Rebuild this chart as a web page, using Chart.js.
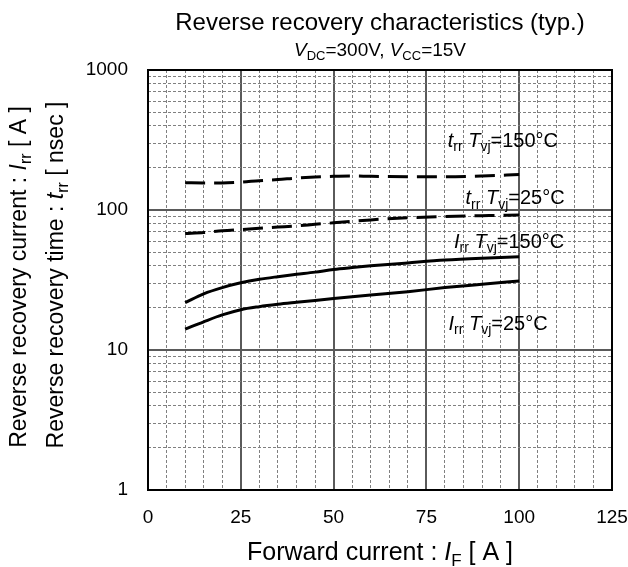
<!DOCTYPE html>
<html>
<head>
<meta charset="utf-8">
<script src="https://cdn.jsdelivr.net/npm/chart.js@4.4.1/dist/chart.umd.min.js"></script>
<style>
  html, body { margin: 0; padding: 0; background: #fff; }
  #wrap { width: 628px; height: 567px; }
</style>
</head>
<body>
<div id="wrap"><canvas id="chart"></canvas></div>
<script>
// forward current I_F [A]
const currents = [10, 15, 20, 25, 30, 35, 40, 45, 50, 55, 60, 70, 80, 90, 100];
// reverse recovery time t_rr [nsec]
const trr150 = [156.5, 156, 156, 158, 162, 165, 169, 172, 174, 175, 174, 173, 173, 175, 179];
const trr25 = [68, 69, 71, 72.5, 74, 75.5, 77, 79, 81, 83, 85, 88, 90, 91, 92];
// reverse recovery current I_rr [A]
const irr150 = [21.8, 25.2, 27.9, 30.2, 32, 33.4, 34.7, 36, 37.6, 38.8, 39.9, 41.9, 43.9, 45.3, 46.4];
const irr25 = [14.1, 15.9, 17.8, 19.4, 20.4, 21.2, 21.9, 22.6, 23.3, 24, 24.7, 26.1, 27.9, 29.5, 31.1];

const xTicks = [0, 5, 10, 15, 20, 25, 30, 35, 40, 45, 50, 55, 60, 65, 70, 75, 80, 85, 90, 95, 100, 105, 110, 115, 120, 125];
const yTicks = [1, 2, 3, 4, 5, 6, 7, 8, 9, 10, 20, 30, 40, 50, 60, 70, 80, 90, 100, 200, 300, 400, 500, 600, 700, 800, 900, 1000];
const xMajor = [0, 25, 50, 75, 100, 125];
const yMajor = [1, 10, 100, 1000];

const FONT = '"Liberation Sans", Arial, sans-serif';

// text pieces: t = text, i = italic, s = subscript
const title = [{t: 'Reverse recovery characteristics (typ.)'}];
const subtitle = [{t: 'V', i: 1}, {t: 'DC', s: 1}, {t: '=300V, '}, {t: 'V', i: 1}, {t: 'CC', s: 1}, {t: '=15V'}];
const xTitle = [{t: 'Forward current : '}, {t: 'I', i: 1}, {t: 'F', s: 1}, {t: ' [ A ]'}];
const yTitle1 = [{t: 'Reverse recovery current : '}, {t: 'I', i: 1}, {t: 'rr', s: 1}, {t: ' [ A ]'}];
const yTitle2 = [{t: 'Reverse recovery time : '}, {t: 't', i: 1}, {t: 'rr', s: 1}, {t: ' [ nsec ]'}];

const curveLabels = [
  {x: 95.6, y: 282, parts: [{t: 't', i: 1}, {t: 'rr', s: 1}, {t: ' '}, {t: 'T', i: 1}, {t: 'vj', s: 1}, {t: '=150°C'}]},
  {x: 98.9, y: 110, parts: [{t: 't', i: 1}, {t: 'rr', s: 1}, {t: ' '}, {t: 'T', i: 1}, {t: 'vj', s: 1}, {t: '=25°C'}]},
  {x: 97.3, y: 53.5, parts: [{t: 'I', i: 1}, {t: 'rr', s: 1}, {t: ' '}, {t: 'T', i: 1}, {t: 'vj', s: 1}, {t: '=150°C'}]},
  {x: 94.3, y: 13.9, parts: [{t: 'I', i: 1}, {t: 'rr', s: 1}, {t: ' '}, {t: 'T', i: 1}, {t: 'vj', s: 1}, {t: '=25°C'}]}
];

function drawRich(ctx, parts, x, y, size) {
  const fontOf = p => (p.i ? 'italic ' : '') + (p.s ? Math.round(size * 0.68) : size) + 'px ' + FONT;
  let w = 0;
  parts.forEach(p => { ctx.font = fontOf(p); w += ctx.measureText(p.t).width; });
  let cx = x - w / 2;
  ctx.textAlign = 'left';
  ctx.textBaseline = 'alphabetic';
  ctx.fillStyle = '#000';
  parts.forEach(p => {
    ctx.font = fontOf(p);
    ctx.fillText(p.t, cx, y + (p.s ? size * 0.22 : 0));
    cx += ctx.measureText(p.t).width;
  });
}

const textPlugin = {
  id: 'texts',
  afterDraw(chart) {
    const ctx = chart.ctx;
    const a = chart.chartArea;
    const xs = chart.scales.x, ys = chart.scales.y;
    ctx.save();
    // frame
    ctx.strokeStyle = '#000';
    ctx.lineWidth = 2;
    ctx.strokeRect(a.left, a.top, a.right - a.left, a.bottom - a.top);

    drawRich(ctx, title, 380, 30, 24);
    drawRich(ctx, subtitle, 380, 56, 19);
    drawRich(ctx, xTitle, 380, 560, 25);

    ctx.save();
    ctx.translate(26, 277);
    ctx.rotate(-Math.PI / 2);
    drawRich(ctx, yTitle1, 0, 0, 23);
    ctx.restore();
    ctx.save();
    ctx.translate(63, 275);
    ctx.rotate(-Math.PI / 2);
    drawRich(ctx, yTitle2, 0, 0, 23);
    ctx.restore();

    curveLabels.forEach(l => {
      drawRich(ctx, l.parts, xs.getPixelForValue(l.x), ys.getPixelForValue(l.y), 20);
    });
    ctx.restore();
  }
};

function pts(vals) {
  return currents.map((c, i) => ({x: c, y: vals[i]}));
}

const line = {borderColor: '#000', borderWidth: 3, pointRadius: 0, cubicInterpolationMode: 'monotone', fill: false};

const gridColor = major => c => major.includes(c.tick && c.tick.value) ? '#5a5a5a' : '#808080';
const gridWidth = major => c => major.includes(c.tick && c.tick.value) ? 2 : 1;
const gridDash = major => c => major.includes(c.tick && c.tick.value) ? [] : [3, 2];

new Chart(document.getElementById('chart'), {
  type: 'line',
  data: {
    datasets: [
      Object.assign({label: 'trr Tvj=150°C', data: pts(trr150), borderDash: [20, 9]}, line),
      Object.assign({label: 'trr Tvj=25°C', data: pts(trr25), borderDash: [20, 9]}, line),
      Object.assign({label: 'Irr Tvj=150°C', data: pts(irr150)}, line),
      Object.assign({label: 'Irr Tvj=25°C', data: pts(irr25)}, line)
    ]
  },
  options: {
    responsive: true,
    maintainAspectRatio: false,
    animation: false,
    layout: {padding: {left: 0, top: 70, right: 16, bottom: 0}},
    plugins: {legend: {display: false}, tooltip: {enabled: false}, title: {display: false}},
    scales: {
      x: {
        type: 'linear', min: 0, max: 125,
        afterBuildTicks: s => { s.ticks = xTicks.map(v => ({value: v})); },
        afterFit: s => { s.height = 77; s.paddingLeft = 0; s.paddingRight = 0; },
        ticks: {
          autoSkip: false, maxRotation: 0, padding: 16, color: '#000',
          font: {family: FONT, size: 19},
          callback: v => xMajor.includes(v) ? String(v) : ''
        },
        grid: {drawTicks: false, color: gridColor(xMajor), lineWidth: gridWidth(xMajor)},
        border: {display: false, dash: gridDash(xMajor)}
      },
      y: {
        type: 'logarithmic', min: 1, max: 1000,
        afterBuildTicks: s => { s.ticks = yTicks.map(v => ({value: v})); },
        afterFit: s => { s.width = 148; s.paddingTop = 0; s.paddingBottom = 0; },
        ticks: {
          autoSkip: false, padding: 20, color: '#000',
          font: {family: FONT, size: 19},
          callback: v => yMajor.includes(v) ? String(v) : ''
        },
        grid: {drawTicks: false, color: gridColor(yMajor), lineWidth: gridWidth(yMajor)},
        border: {display: false, dash: gridDash(yMajor)}
      }
    }
  },
  plugins: [textPlugin]
});
</script>
</body>
</html>
